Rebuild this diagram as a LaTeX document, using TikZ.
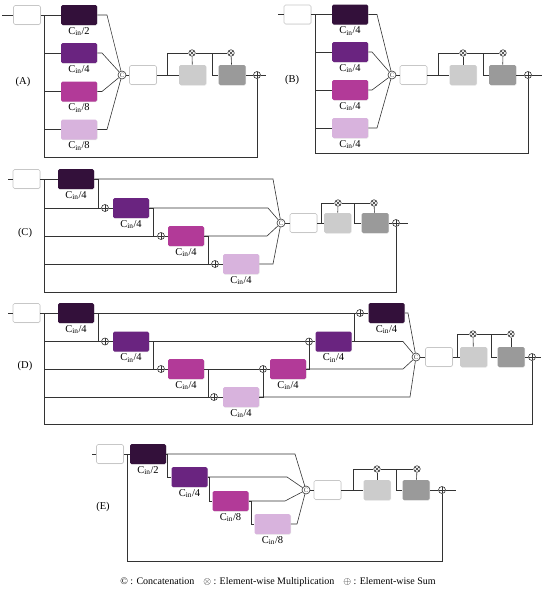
\documentclass[tikz,border=0pt]{standalone}
\usepackage{fontspec}
\setmainfont{Liberation Serif}
\usetikzlibrary{positioning}
\usetikzlibrary{shadows}
\definecolor{convA}{HTML}{33103A}
\definecolor{convB}{HTML}{6A2480}
\definecolor{convC}{HTML}{B23A98}
\definecolor{convD}{HTML}{D8B3DD}
\definecolor{attA}{HTML}{CCCCCC}
\definecolor{attB}{HTML}{9A9A9A}
\tikzstyle{wbox} = [draw=black!22, fill=white, rounded corners=1.5pt, minimum width=27pt, minimum height=19pt, inner sep=0pt, drop shadow={opacity=0.15, shadow xshift=0.6pt, shadow yshift=-0.6pt}]
\tikzstyle{cbox} = [rounded corners=1.5pt, minimum width=36pt, minimum height=20pt, inner sep=0pt, drop shadow={opacity=0.2, shadow xshift=0.6pt, shadow yshift=-0.6pt}]
\tikzstyle{pa} = [cbox, fill=convA]
\tikzstyle{pb} = [cbox, fill=convB]
\tikzstyle{pc} = [cbox, fill=convC]
\tikzstyle{pd} = [cbox, fill=convD]
\tikzstyle{ga} = [cbox, minimum width=27pt, fill=attA]
\tikzstyle{gb} = [cbox, minimum width=27pt, fill=attB]
\tikzstyle{lab} = [font=\fontsize{10.5}{10.5}\selectfont, text=black, inner sep=0.5pt]
\tikzstyle{cat} = [draw, circle, inner sep=0pt, minimum size=8pt, font=\fontsize{6.5}{6.5}\selectfont]
\tikzstyle{mul} = [draw, circle, inner sep=0pt, minimum size=6.5pt, path picture={\draw (path picture bounding box.north west) -- (path picture bounding box.south east) (path picture bounding box.south west) -- (path picture bounding box.north east);}]
\tikzstyle{sum} = [draw, circle, inner sep=0pt, minimum size=7pt, path picture={\draw (path picture bounding box.north) -- (path picture bounding box.south) (path picture bounding box.west) -- (path picture bounding box.east);}]

\begin{document}
\begin{tikzpicture}[x=1pt, y=-1pt, line width=0.6pt, color=black!80]
    \useasboundingbox (0,0) rectangle (545,589);

    % (A)
    \node[lab] (alab) at (23,82) {(A)};
    \coordinate (ain) at (2,15);
    \node[wbox] (a0) at (27,15) {};
    \coordinate (at) at (44,15);
    \coordinate (ab) at (44,157);
    \node[pa] (a1) at (79,15) {};
    \node[pb] (a2) at (79,53) {};
    \node[pc] (a3) at (79,91.5) {};
    \node[pd] (a4) at (79,129.5) {};
    \node[lab, below=1pt of a1] (a1l) {C\textsubscript{in}/2};
    \node[lab, below=1pt of a2] (a2l) {C\textsubscript{in}/4};
    \node[lab, below=1pt of a3] (a3l) {C\textsubscript{in}/8};
    \node[lab, below=1pt of a4] (a4l) {C\textsubscript{in}/8};
    \node[cat] (acat) at (122,75) {C};
    \node[wbox] (aw) at (143,75) {};
    \node[ga] (ag1) at (192.5,75) {};
    \node[gb] (ag2) at (232,75) {};
    \node[mul] (am1) at (192,53) {};
    \node[mul] (am2) at (231,53) {};
    \node[sum] (as) at (257,75) {};
    \coordinate (aout) at (266,75);

    \draw (ain) -- (a0) -- (a1);
    \draw (at) -- (ab);
    \draw (at |- a2) -- (a2);
    \draw (at |- a3) -- (a3);
    \draw (at |- a4) -- (a4);
    \draw (a1) -- ++(28,0) -- (acat);
    \draw (a2) -- ++(23,0) -- (acat);
    \draw (a3) -- ++(23,0) -- (acat);
    \draw (a4) -- ++(28,0) -- (acat);
    \draw (acat) -- (aw);
    \draw (aw) -- (ag1);
    \draw (aw.east) ++(10,0) |- (am1);
    \draw (ag1) -- (am1);
    \draw (am1) -- (am2);
    \draw (am1) ++(20,0) |- (ag2);
    \draw (ag2) -- (am2);
    \draw (ag2) -- (as) -- (aout);
    \draw (ab) -| (as);

    % (B)
    \node[lab] (blab) at (292,80) {(B)};
    \coordinate (bin) at (278,14.5);
    \node[wbox] (b0) at (297.5,14.5) {};
    \coordinate (bt) at (315,14.5);
    \coordinate (bb) at (315,153);
    \node[pa] (b1) at (350,14.5) {};
    \node[pb] (b2) at (350,52) {};
    \node[pc] (b3) at (350,90) {};
    \node[pd] (b4) at (350,128) {};
    \node[lab, below=1pt of b1] (b1l) {C\textsubscript{in}/4};
    \node[lab, below=1pt of b2] (b2l) {C\textsubscript{in}/4};
    \node[lab, below=1pt of b3] (b3l) {C\textsubscript{in}/4};
    \node[lab, below=1pt of b4] (b4l) {C\textsubscript{in}/4};
    \node[cat] (bcat) at (392,75) {C};
    \node[wbox] (bw) at (413.5,75) {};
    \node[ga] (bg1) at (463,75) {};
    \node[gb] (bg2) at (502.5,75) {};
    \node[mul] (bm1) at (463,53) {};
    \node[mul] (bm2) at (503,53) {};
    \node[sum] (bs) at (528,75) {};
    \coordinate (bout) at (542,75);

    \draw (bin) -- (b0) -- (b1);
    \draw (bt) -- (bb);
    \draw (bt |- b2) -- (b2);
    \draw (bt |- b3) -- (b3);
    \draw (bt |- b4) -- (b4);
    \draw (b1) -- ++(27,0) -- (bcat);
    \draw (b2) -- ++(22,0) -- (bcat);
    \draw (b3) -- ++(22,0) -- (bcat);
    \draw (b4) -- ++(27,0) -- (bcat);
    \draw (bcat) -- (bw);
    \draw (bw) -- (bg1);
    \draw (bw.east) ++(11,0) |- (bm1);
    \draw (bg1) -- (bm1);
    \draw (bm1) -- (bm2);
    \draw (bm1) ++(20,0) |- (bg2);
    \draw (bg2) -- (bm2);
    \draw (bg2) -- (bs) -- (bout);
    \draw (bb) -| (bs);

    % (C)
    \node[lab] (clab) at (25,233) {(C)};
    \coordinate (cin) at (8,179);
    \node[wbox] (c0) at (26.5,179) {};
    \coordinate (ct) at (44,179);
    \coordinate (cb) at (44,292);
    \node[pa] (c1) at (76,179) {};
    \node[pb] (c2) at (131,208) {};
    \node[pc] (c3) at (186,236) {};
    \node[pd] (c4) at (241,264) {};
    \node[lab, below=1pt of c1] (c1l) {C\textsubscript{in}/4};
    \node[lab, below=1pt of c2] (c2l) {C\textsubscript{in}/4};
    \node[lab, below=1pt of c3] (c3l) {C\textsubscript{in}/4};
    \node[lab, below=1pt of c4] (c4l) {C\textsubscript{in}/4};
    \node[sum] (cp2) at (105,208) {};
    \node[sum] (cp3) at (161,236) {};
    \node[sum] (cp4) at (215,264) {};
    \node[cat] (ccat) at (281,223) {C};
    \node[wbox] (cw) at (303.5,223) {};
    \node[ga] (cg1) at (337.5,223) {};
    \node[gb] (cg2) at (375,223) {};
    \node[mul] (cm1) at (338,203) {};
    \node[mul] (cm2) at (374,203) {};
    \node[sum] (cs) at (396,223) {};
    \coordinate (cout) at (408,223);

    \draw (cin) -- (c0) -- (c1);
    \draw (ct) -- (cb);
    \draw (c1) -- (273,179) -- (ccat);
    \draw (c1.east) -- ++(4,0) |- (cp2);
    \draw (ct |- cp2) -- (cp2) -- (c2);
    \draw (c2) -- (268,208) -- (ccat);
    \draw (c2.east) -- ++(4,0) |- (cp3);
    \draw (ct |- cp3) -- (cp3) -- (c3);
    \draw (c3) -- (267,236) -- (ccat);
    \draw (c3.east) -- ++(4,0) |- (cp4);
    \draw (ct |- cp4) -- (cp4) -- (c4);
    \draw (c4) -- (273,264) -- (ccat);
    \draw (ccat) -- (cw);
    \draw (cw) -- (cg1);
    \draw (cw.east) ++(4,0) |- (cm1);
    \draw (cg1) -- (cm1);
    \draw (cm1) -- (cm2);
    \draw (cm1) ++(16,0) |- (cg2);
    \draw (cg2) -- (cm2);
    \draw (cg2) -- (cs) -- (cout);
    \draw (cb) -| (cs);

    % (D)
    \node[lab] (dlab) at (25,366) {(D)};
    \coordinate (din) at (8,313);
    \node[wbox] (d0) at (26.5,313) {};
    \coordinate (dt) at (44,313);
    \coordinate (db) at (44,424);
    \node[pa] (d1) at (76,313) {};
    \node[pb] (d2) at (131,341.5) {};
    \node[pc] (d3) at (186,369) {};
    \node[pd] (d4) at (241,397) {};
    \node[pc] (d5) at (288,369) {};
    \node[pb] (d6) at (333.5,341.5) {};
    \node[pa] (d7) at (386.5,313) {};
    \node[lab, below=1pt of d1] (d1l) {C\textsubscript{in}/4};
    \node[lab, below=1pt of d2] (d2l) {C\textsubscript{in}/4};
    \node[lab, below=1pt of d3] (d3l) {C\textsubscript{in}/4};
    \node[lab, below=1pt of d4] (d4l) {C\textsubscript{in}/4};
    \node[lab, below=1pt of d5] (d5l) {C\textsubscript{in}/4};
    \node[lab, below=1pt of d6] (d6l) {C\textsubscript{in}/4};
    \node[lab, below=1pt of d7] (d7l) {C\textsubscript{in}/4};
    \node[sum] (dp2) at (105,341.5) {};
    \node[sum] (dp3) at (161,369) {};
    \node[sum] (dp4) at (214,397) {};
    \node[sum] (dp5) at (263,369) {};
    \node[sum] (dp6) at (309,341.5) {};
    \node[sum] (dp7) at (360,313) {};
    \node[cat] (dcat) at (416,357) {C};
    \node[wbox] (dw) at (439,357) {};
    \node[ga] (dg1) at (473.5,357) {};
    \node[gb] (dg2) at (511,357) {};
    \node[mul] (dm1) at (473,334) {};
    \node[mul] (dm2) at (511,334) {};
    \node[sum] (ds) at (532,357) {};
    \coordinate (dout) at (541,357);

    \draw (din) -- (d0) -- (d1);
    \draw (dt) -- (db);
    \draw (d1) -- (dp7) -- (d7);
    \draw (d1.east) -- ++(4,0) |- (dp2);
    \draw (dt |- dp2) -- (dp2) -- (d2);
    \draw (d2) -- (dp6) -- (d6);
    \draw (d2.east) -- ++(4,0) |- (dp3);
    \draw (dt |- dp3) -- (dp3) -- (d3);
    \draw (d3) -- (dp5) -- (d5);
    \draw (d3.east) -- ++(4,0) |- (dp4);
    \draw (dt |- dp4) -- (dp4) -- (d4);
    \draw (d4) -- (410,397) -- (dcat);
    \draw (d4.east) -| (dp5);
    \draw (d5) -- (403,369) -- (dcat);
    \draw (d5.east) -| (dp6);
    \draw (d6) -- (403,341.5) -- (dcat);
    \draw (d6.east) -- ++(2,0) |- (dp7);
    \draw (d7) -- (408,313) -- (dcat);
    \draw (dcat) -- (dw);
    \draw (dw) -- (dg1);
    \draw (dw.east) ++(4,0) |- (dm1);
    \draw (dg1) -- (dm1);
    \draw (dm1) -- (dm2);
    \draw (dm1) ++(18,0) |- (dg2);
    \draw (dg2) -- (dm2);
    \draw (dg2) -- (ds) -- (dout);
    \draw (db) -| (ds);

    % (E)
    \node[lab] (elab) at (103,507) {(E)};
    \coordinate (ein) at (92,454);
    \node[wbox] (e0) at (110,454) {};
    \coordinate (et) at (127,454);
    \coordinate (eb) at (127,561);
    \node[pa] (e1) at (148,454) {};
    \node[pb] (e2) at (189.5,477) {};
    \node[pc] (e3) at (230.5,501) {};
    \node[pd] (e4) at (272.5,524) {};
    \node[lab, below=1pt of e1] (e1l) {C\textsubscript{in}/2};
    \node[lab, below=1pt of e2] (e2l) {C\textsubscript{in}/4};
    \node[lab, below=1pt of e3] (e3l) {C\textsubscript{in}/8};
    \node[lab, below=1pt of e4] (e4l) {C\textsubscript{in}/8};
    \node[cat] (ecat) at (306,490) {C};
    \node[wbox] (ew) at (327.5,490) {};
    \node[ga] (eg1) at (377,490) {};
    \node[gb] (eg2) at (416,490) {};
    \node[mul] (em1) at (377,469) {};
    \node[mul] (em2) at (417,469) {};
    \node[sum] (es) at (442,490) {};
    \coordinate (eout) at (456,490);

    \draw (ein) -- (e0) -- (e1);
    \draw (et) -- (eb);
    \draw (e1) -- (295,454) -- (ecat);
    \draw (e1.east) -- ++(1,0) |- (e2);
    \draw (e2) -- (287,477) -- (ecat);
    \draw (e2.east) -- ++(1,0) |- (e3);
    \draw (e3) -- (285,501) -- (ecat);
    \draw (e3.east) -- ++(2,0) |- (e4);
    \draw (e4) -- (297,524) -- (ecat);
    \draw (ecat) -- (ew);
    \draw (ew) -- (eg1);
    \draw (ew.east) ++(12,0) |- (em1);
    \draw (eg1) -- (em1);
    \draw (em1) -- (em2);
    \draw (em1) ++(19,0) |- (eg2);
    \draw (eg2) -- (em2);
    \draw (eg2) -- (es) -- (eout);
    \draw (eb) -| (es);

    % legend
    \node[lab, font=\fontsize{10}{10}\selectfont] (legend) at (278,582) {\textcopyright{} : Concatenation\hspace{9pt}$\otimes$ : Element-wise Multiplication\hspace{9pt}$\oplus$ : Element-wise Sum};
\end{tikzpicture}
\end{document}
